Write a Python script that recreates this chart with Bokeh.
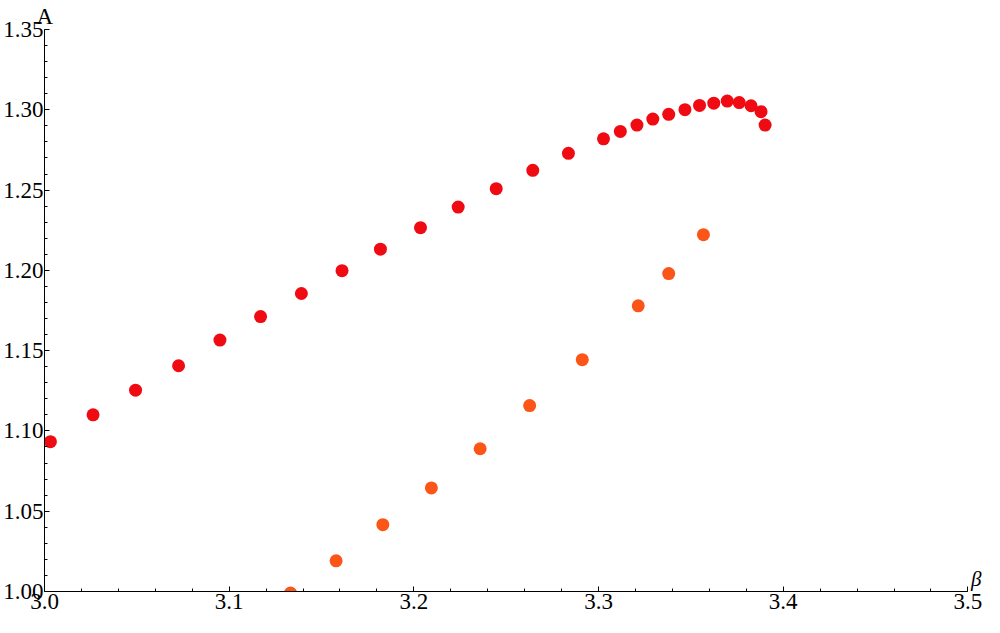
from bokeh.plotting import figure
from bokeh.models import FixedTicker, NumeralTickFormatter, Label, Range1d, Title
from bokeh.embed import file_html
from bokeh.resources import INLINE

# Upper branch (red)
beta_red = [3.0032, 3.0263, 3.0493, 3.0726, 3.0950, 3.1170, 3.1391, 3.1611,
            3.1819, 3.2036, 3.2240, 3.2446, 3.2644, 3.2837, 3.3027, 3.3118,
            3.3208, 3.3294, 3.3380, 3.3468, 3.3547, 3.3624, 3.3697, 3.3762,
            3.3826, 3.3880, 3.3902]
A_red = [1.0933, 1.1100, 1.1254, 1.1406, 1.1566, 1.1712, 1.1856, 1.1998,
         1.2132, 1.2266, 1.2394, 1.2509, 1.2623, 1.2729, 1.2819, 1.2865,
         1.2905, 1.2942, 1.2972, 1.3001, 1.3027, 1.3041, 1.3054, 1.3045,
         1.3025, 1.2988, 1.2905]

# Lower branch (orange)
beta_orange = [3.1332, 3.1579, 3.1832, 3.2095, 3.2359, 3.2627, 3.2912,
               3.3215, 3.3380, 3.3568]
A_orange = [0.9990, 1.0191, 1.0416, 1.0645, 1.0889, 1.1158, 1.1444,
            1.1779, 1.1980, 1.2222]

x_ticks = [3.0, 3.1, 3.2, 3.3, 3.4, 3.5]
x_minor = [round(3.0 + 0.02 * i, 2) for i in range(26)]
y_ticks = [1.00, 1.05, 1.10, 1.15, 1.20, 1.25, 1.30, 1.35]
y_minor = [round(1.0 + 0.01 * i, 2) for i in range(36)]

FONT = "Liberation Serif"

p = figure(width=984, height=617, output_backend="svg", toolbar_location=None,
           x_range=Range1d(3.0, 3.509), y_range=Range1d(1.0, 1.35),
           min_border_top=0, min_border_right=0, min_border_left=0,
           min_border_bottom=26)
p.outline_line_color = None
p.xgrid.visible = False
p.ygrid.visible = False
p.background_fill_color = "white"

p.scatter(beta_red, A_red, size=13, color="#f00a12", line_color=None)
p.scatter(beta_orange, A_orange, size=13, color="#fb5518", line_color=None)

for ax, ticks, minor, fmt, bnds in ((p.xaxis[0], x_ticks, x_minor, "0.0", (3.0, 3.5)),
                                    (p.yaxis[0], y_ticks, y_minor, "0.00", (1.0, 1.35))):
    ax.ticker = FixedTicker(ticks=ticks, minor_ticks=minor)
    ax.formatter = NumeralTickFormatter(format=fmt)
    ax.bounds = bnds
    ax.major_tick_in = 5
    ax.major_tick_out = 0
    ax.minor_tick_in = 3
    ax.minor_tick_out = 0
    ax.axis_line_color = "black"
    ax.major_tick_line_color = "black"
    ax.minor_tick_line_color = "black"
    ax.major_label_text_font = FONT
    ax.major_label_text_font_size = "23px"
    ax.major_label_text_color = "black"

p.xaxis[0].major_label_standoff = 2
p.yaxis[0].major_label_standoff = 1

title = Title(text="A", align="left", offset=-8, text_font=FONT,
              text_font_size="23px", text_font_style="normal",
              text_color="black", standoff=2)
p.add_layout(title, "above")

p.add_layout(Label(x=3.5, y=1.0, text="β", text_font=FONT, text_font_size="21px",
                   text_font_style="italic", text_align="left",
                   text_baseline="bottom", x_offset=3, y_offset=1,
                   text_color="black"))

open("out.html", "w").write(file_html(p, INLINE))
